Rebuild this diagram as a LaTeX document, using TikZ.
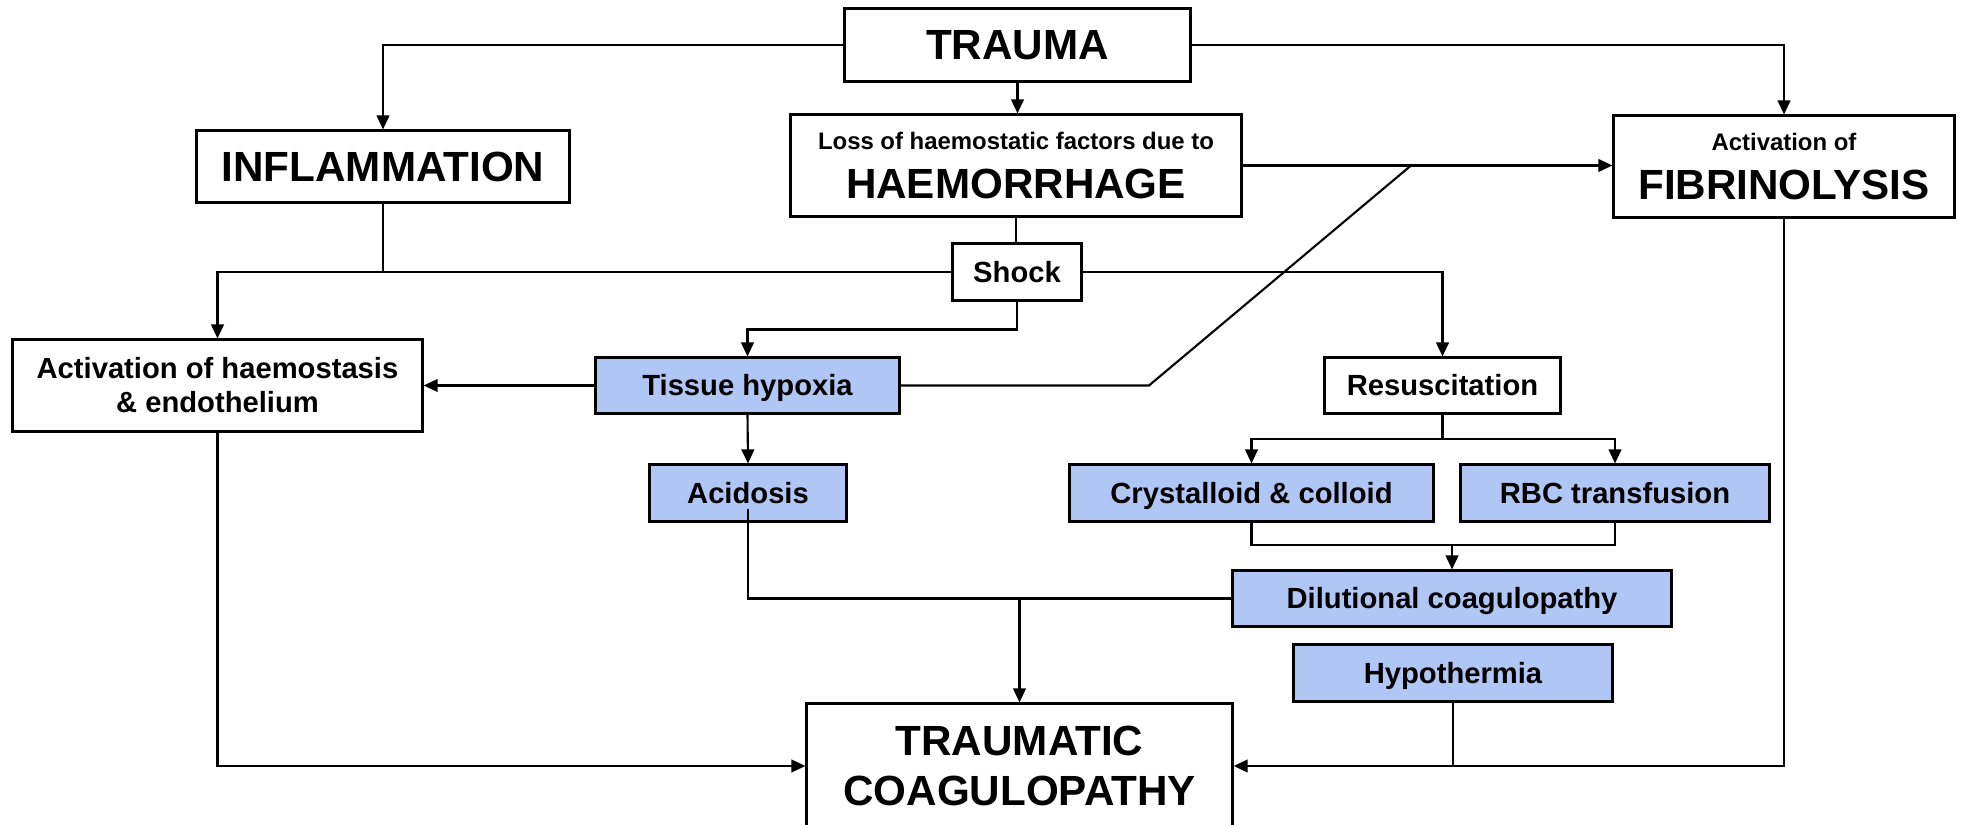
\documentclass[tikz,border=0pt]{standalone}
\usepackage{fontspec}
\setmainfont{Liberation Sans}
\usetikzlibrary{arrows.meta}
\definecolor{boxblue}{RGB}{176,198,245}
\begin{document}
\begin{tikzpicture}[x=0.01cm,y=-0.01cm,
  box/.style={draw=black,line width=0.85pt,fill=white,inner sep=0pt,align=center,font=\bfseries},
  bluebox/.style={box,fill=boxblue},
  big/.style={font=\bfseries\fontsize{12}{14.2}\selectfont},
  mid/.style={font=\bfseries\fontsize{8.3}{9.7}\selectfont},
  oneline/.style={text height=5.95pt,text depth=0pt},
  conn/.style={line width=0.6pt,draw=black},
  arr/.style={conn,-{Triangle[length=4pt,width=3.6pt]}}
]
\useasboundingbox (0,0) rectangle (1961,825);
\fill[white] (0,0) rectangle (1961,825);

% nodes
\node[box,big,minimum width=3.45cm,minimum height=0.72cm] (trauma) at (1017.5,45) {TRAUMA};
\node[box,big,minimum width=3.72cm,minimum height=0.71cm] (inflam) at (383,166.5) {INFLAMMATION};
\node[box,big,minimum width=4.50cm,minimum height=1.01cm,font=\bfseries\fontsize{12}{13.9}\selectfont] (haem) at (1016,165.5)
  {{\fontsize{6.8}{8}\selectfont Loss of haemostatic factors due to}\\HAEMORRHAGE};
\node[box,big,minimum width=3.40cm,minimum height=1.01cm,font=\bfseries\fontsize{12}{13.7}\selectfont] (fibrin) at (1784,166.5)
  {{\fontsize{6.8}{8}\selectfont Activation of}\\FIBRINOLYSIS};
\node[box,mid,oneline,minimum width=1.28cm,minimum height=0.56cm] (shock) at (1017,272) {Shock};
\node[box,mid,minimum width=4.09cm,minimum height=0.91cm] (activ) at (217.5,385.5) {Activation of haemostasis\\\& endothelium};
\node[bluebox,mid,oneline,minimum width=3.03cm,minimum height=0.55cm] (hypoxia) at (747.5,385.5) {Tissue hypoxia};
\node[box,mid,oneline,minimum width=2.35cm,minimum height=0.55cm] (resus) at (1442.5,385.5) {Resuscitation};
\node[bluebox,mid,oneline,minimum width=1.96cm,minimum height=0.56cm] (acid) at (748,493) {Acidosis};
\node[bluebox,mid,oneline,minimum width=3.63cm,minimum height=0.56cm] (cryst) at (1251.5,493) {Crystalloid \& colloid};
\node[bluebox,mid,oneline,minimum width=3.08cm,minimum height=0.56cm] (rbc) at (1615,493) {RBC transfusion};
\node[bluebox,mid,oneline,minimum width=4.38cm,minimum height=0.55cm] (dilut) at (1452,598.5) {Dilutional coagulopathy};
\node[bluebox,mid,oneline,minimum width=3.18cm,minimum height=0.56cm] (hypoth) at (1453,673) {Hypothermia};
\node[box,big,minimum width=4.25cm,minimum height=1.24cm] (tc) at (1019.5,766) {TRAUMATIC\\COAGULOPATHY};

% junction coordinates
\coordinate (bend) at (1149,385.5);
\coordinate (j1) at (1411,165.5);
\coordinate (resj) at (1442.5,439);
\coordinate (cbj) at (1452,545);

% connectors
\draw[arr] (trauma.west) -| (inflam.north);
\draw[arr] (trauma.east) -| (fibrin.north);
\draw[arr] (trauma.south) -- (trauma.south |- haem.north);
\draw[arr] (haem.east) -- (haem.east -| fibrin.west);
\draw[conn] (haem.south) -- (haem.south |- shock.north);
\draw[arr] (shock.west) -| (activ.north);
\draw[conn] (inflam.south) -- (inflam.south |- shock.west);
\draw[arr] (shock.south) -- ++(0,28) -| (hypoxia.north);
\draw[arr] (shock.east) -| (resus.north);
\draw[arr] (hypoxia.west) -- (activ.east);
\draw[conn] (hypoxia.east) -- (bend) -- (j1);
\draw[arr] (hypoxia.south) -- (acid.north);
\draw[conn] (resus.south) -- (resj);
\draw[arr] (resj) -| (cryst.north);
\draw[arr] (resj) -| (rbc.north);
\draw[conn] (cryst.south) |- (cbj) -| (rbc.south);
\draw[arr] (cbj) -- (dilut.north);
\draw[conn] ([yshift=0.14cm]acid.south) |- (dilut.west);
\draw[arr] (tc.north |- dilut.west) -- (tc.north);
\draw[arr] (activ.south) |- (tc.west);
\draw[arr] (fibrin.south) |- (tc.east);
\draw[conn] (hypoth.south) -- (hypoth.south |- tc.east);
\end{tikzpicture}
\end{document}
